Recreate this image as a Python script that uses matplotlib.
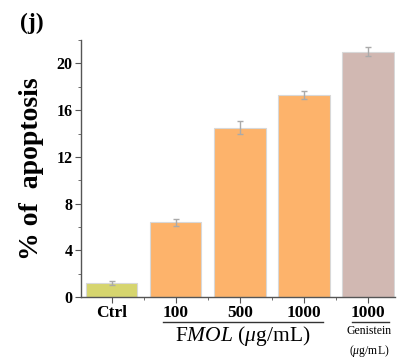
import matplotlib.pyplot as plt
from matplotlib.ticker import MultipleLocator, FixedLocator

# Datos
categorias = ["Ctrl", "100", "500", "1000", "1000"]
valores = [1.2, 6.4, 14.5, 17.3, 21.0]
errores = [0.15, 0.3, 0.55, 0.35, 0.4]
colores = ["#d6d56e", "#fdb36b", "#fdb36b", "#fdb36b", "#d1b8b2"]

plt.rcParams["font.family"] = ["Liberation Serif", "DejaVu Serif"]
plt.rcParams["font.weight"] = "bold"
plt.rcParams["mathtext.fontset"] = "custom"
plt.rcParams["mathtext.rm"] = "Liberation Serif:weight=normal"
plt.rcParams["mathtext.it"] = "Liberation Serif:style=italic:weight=normal"
plt.rcParams["mathtext.bf"] = "Liberation Serif:weight=bold"

fig = plt.figure(figsize=(4.06, 3.58), dpi=100)
ax = fig.add_axes([0.1995, 0.170, 0.7735, 0.718])

x = list(range(len(valores)))
ax.bar(x, valores, width=0.8, color=colores, edgecolor="#d8d8d8", linewidth=0.8,
       yerr=errores, ecolor="#aaaaaa", capsize=2.5, error_kw={"elinewidth": 1.0})

ax.set_xlim(-0.48, 4.42)
ax.set_ylim(0, 22)
ax.spines["top"].set_visible(False)
ax.spines["right"].set_visible(False)
for s in ["left", "bottom"]:
    ax.spines[s].set_color("#555555")
    ax.spines[s].set_linewidth(1.0)

ax.yaxis.set_major_locator(MultipleLocator(4))
ax.yaxis.set_minor_locator(MultipleLocator(2))
ax.set_xticks(x)
ax.set_xticklabels(categorias, fontsize=12.5, fontweight="bold")
ax.xaxis.set_minor_locator(FixedLocator([0.5, 1.5, 2.5, 3.5]))
ax.tick_params(axis="both", which="major", direction="out", length=4, color="#555555", pad=2)
ax.tick_params(axis="both", which="minor", direction="out", length=2, color="#555555")
ax.tick_params(axis="y", labelsize=11.5)
for lab in ax.get_yticklabels():
    lab.set_fontweight("bold")

ax.set_ylabel("% of  apoptosis", fontsize=20, fontweight="bold", labelpad=9)

# Etiqueta (j)
fig.text(0.05, 0.935, "(j)", fontsize=17, fontweight="bold", ha="left", va="center")

# Subrayados y textos de grupo
ax.plot([0.8, 3.3], [-0.095, -0.095], transform=ax.get_xaxis_transform(),
        color="#333333", lw=1.0, clip_on=False)
ax.plot([3.75, 4.32], [-0.095, -0.095], transform=ax.get_xaxis_transform(),
        color="#333333", lw=1.0, clip_on=False)
ax.text(2.05, -0.105, r"F$\mathit{MOL}$ ($\mathit{\mu}$g/mL)", transform=ax.get_xaxis_transform(),
        ha="center", va="top", fontsize=15.5, fontweight="normal")
ax.text(4.02, -0.11, "Genistein", transform=ax.get_xaxis_transform(),
        ha="center", va="top", fontsize=8.5, fontweight="normal")
ax.text(4.02, -0.18, r"($\mathit{\mu}$g/mL)", transform=ax.get_xaxis_transform(),
        ha="center", va="top", fontsize=8.5, fontweight="normal")

fig.savefig("out.png", dpi=100)
